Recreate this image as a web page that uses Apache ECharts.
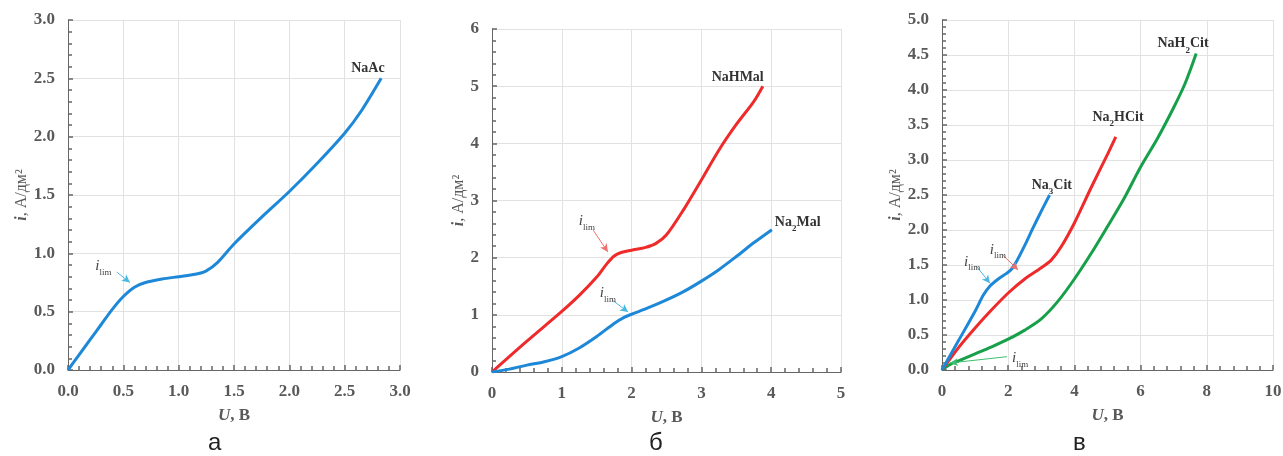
<!DOCTYPE html>
<html><head><meta charset="utf-8">
<script src="https://cdn.jsdelivr.net/npm/echarts@6/dist/echarts.min.js"></script>
<style>html,body{margin:0;padding:0;background:#fff}#c{width:1283px;height:456px}</style>
</head><body><div id="c"></div>
<script>
// ---- data (U, В ; i, А/дм²) ----
const naAc = [[0,0],[0.1,0.13],[0.2,0.26],[0.3,0.39],[0.4,0.52],[0.5,0.63],[0.6,0.71],[0.7,0.75],[0.85,0.78],[1.0,0.8],[1.15,0.82],[1.25,0.85],[1.35,0.92],[1.5,1.08],[1.75,1.31],[2.0,1.53],[2.25,1.77],[2.5,2.03],[2.65,2.22],[2.83,2.5]];
const naHMal = [[0,0],[0.5,0.54],[1.0,1.06],[1.25,1.34],[1.5,1.66],[1.65,1.9],[1.75,2.03],[1.85,2.09],[2.0,2.13],[2.2,2.18],[2.35,2.25],[2.5,2.4],[2.75,2.85],[3.0,3.36],[3.25,3.88],[3.5,4.33],[3.75,4.73],[3.88,5.0]];
const na2Mal = [[0,0],[0.25,0.05],[0.5,0.12],[0.75,0.18],[1.0,0.27],[1.25,0.42],[1.5,0.62],[1.75,0.85],[1.9,0.96],[2.0,1.01],[2.25,1.13],[2.5,1.26],[2.75,1.41],[3.0,1.59],[3.25,1.79],[3.5,2.02],[3.75,2.26],[4.01,2.49]];
const na3Cit = [[0,0],[0.5,0.42],[1.0,0.84],[1.25,1.07],[1.45,1.2],[1.7,1.3],[1.95,1.38],[2.1,1.44],[2.25,1.55],[2.5,1.78],[2.75,2.03],[3.0,2.27],[3.25,2.5]];
const na2HCit = [[0,0],[0.5,0.32],[1.0,0.6],[1.5,0.86],[2.0,1.1],[2.5,1.3],[3.0,1.46],[3.3,1.57],[3.6,1.76],[4.0,2.1],[4.5,2.6],[5.0,3.08],[5.25,3.33]];
const naH2Cit = [[0,0],[0.25,0.08],[0.5,0.13],[1.0,0.23],[1.5,0.33],[2.0,0.44],[2.5,0.57],[3.0,0.73],[3.5,0.98],[4.0,1.3],[4.5,1.66],[5.0,2.05],[5.5,2.45],[6.0,2.9],[6.5,3.3],[7.0,3.75],[7.35,4.1],[7.68,4.52]];

// ---- axis ranges / ticks ----
const xMaxA = 3.0, xStepA = 0.5, yMaxA = 3.0, yStepA = 0.5;
const xMaxB = 5, xStepB = 1, yMaxB = 6, yStepB = 1;
const xMaxC = 10, xStepC = 2, yMaxC = 5.0, yStepC = 0.5;

// ---- annotation anchors (data units) ----
const nameA = [["NaAc",2.71,2.6]];
const nameB = [["NaHMal",3.52,5.18],["Na₂Mal",4.38,2.66]];
const nameC = [["Na₃Cit",3.32,2.67],["Na₂HCit",5.32,3.64],["NaH₂Cit",7.28,4.69]];
const limTextA = [[0.32,0.9]];
const limArrowA = [[0.44,0.84,0.56,0.75]];
const limTextBred = [[1.36,2.66]], limArrowBred = [[1.45,2.48,1.66,2.10]];
const limTextBblue = [[1.66,1.40]], limArrowBblue = [[1.72,1.26,1.95,1.05]];
const limTextCblue = [[0.91,1.57]], limArrowCblue = [[1.06,1.47,1.45,1.24]];
const limTextCred = [[1.69,1.74]], limArrowCred = [[1.84,1.64,2.3,1.43]];
const limTextCgreen = [[2.36,0.19]], limArrowCgreen = [[1.96,0.19,0.24,0.1]];

const BLUE = '#1e88d8', RED = '#ee2a2a', GREEN = '#17a04a';
const SERIF = '"Liberation Serif","DejaVu Serif",serif';

function fmtName(s){
  return '{n|' + s.replace(/[₂₃]/g, m => '}{s|' + (m === '₂' ? '2' : '3') + '}{n|') + '}';
}
const nameRich = {
  n:{fontFamily:SERIF,fontSize:14,fontWeight:'bold',color:'#333',lineHeight:18,verticalAlign:'bottom'},
  s:{fontFamily:SERIF,fontSize:9,fontWeight:'bold',color:'#333',lineHeight:14,verticalAlign:'bottom',padding:[0,0,-4,0]}
};
const limRich = {
  i:{fontFamily:SERIF,fontSize:15,fontStyle:'italic',color:'#444',lineHeight:18,verticalAlign:'bottom'},
  s:{fontFamily:SERIF,fontSize:9,color:'#444',lineHeight:14,verticalAlign:'bottom',padding:[0,0,-3,0]}
};

function markPts(names, lims){
  const d = [];
  names.forEach(n => d.push({coord:[n[1],n[2]], label:{formatter:fmtName(n[0]), rich:nameRich}}));
  lims.forEach(t => d.push({coord:[t[0],t[1]], label:{formatter:'{i|i}{s|lim}', rich:limRich}}));
  return {symbol:'circle', symbolSize:1, itemStyle:{color:'rgba(0,0,0,0)'}, silent:true,
    label:{show:true, position:'inside'}, data:d};
}
function markArr(arrs, color){
  return {silent:true, symbol:['none','arrow'], symbolSize:[6,8], label:{show:false},
    lineStyle:{color:color, type:'solid', width:1},
    data: arrs.map(a => [{coord:[a[0],a[1]]},{coord:[a[2],a[3]]}])};
}

const grids = [
  {left:68, top:20, width:332, height:350, outerBoundsMode:'none'},
  {left:492, top:29, width:349, height:343, outerBoundsMode:'none'},
  {left:942, top:20, width:331, height:350, outerBoundsMode:'none'}
];
const tickCol = '#666666';
function axisBase(idx, max, step, dec){
  return {type:'value', gridIndex:idx, min:0, max:max, interval:step,
    axisLine:{show:true, lineStyle:{color:tickCol, width:1}},
    axisTick:{show:true, inside:true, length:5, lineStyle:{color:tickCol, width:1.5}},
    minorTick:{show:true, splitNumber:5, length:4, lineStyle:{color:tickCol, width:1.5}},
    splitLine:{show:true, lineStyle:{color:'#e2e2e2'}},
    axisLabel:{fontFamily:SERIF, fontSize:17, fontWeight:'bold', color:'#595959', margin:13,
      formatter: v => v.toFixed(dec)}};
}
function xAx(idx, max, step, dec){
  return Object.assign(axisBase(idx, max, step, dec), {
    name:'{u|U}{n|, В}', nameLocation:'middle', nameGap:37,
    nameTextStyle:{rich:{u:{fontFamily:SERIF,fontSize:17,fontStyle:'italic',fontWeight:'bold',color:'#595959'},
      n:{fontFamily:SERIF,fontSize:17,fontWeight:'bold',color:'#595959'}}}
  });
}
function yAx(idx, max, step, dec, gap){
  const a = axisBase(idx, max, step, dec);
  a.axisLabel.margin = 13;
  return Object.assign(a, {
    name:'{i|i}{n|, А/дм²}', nameLocation:'middle', nameGap:gap,
    nameTextStyle:{rich:{i:{fontFamily:SERIF,fontSize:16,fontStyle:'italic',fontWeight:'bold',color:'#595959'},
      n:{fontFamily:SERIF,fontSize:16,color:'#595959'}}}
  });
}
function line(name, data, color, xi, extra){
  return Object.assign({type:'line', name:name, data:data, xAxisIndex:xi, yAxisIndex:xi,
    smooth:0.3, showSymbol:false, symbol:'none', lineStyle:{color:color, width:3}, itemStyle:{color:color},
    z:3}, extra||{});
}

const subStyle = {fontFamily:'"Liberation Sans","DejaVu Sans",sans-serif', fontSize:24, fontWeight:'normal', color:'#222'};
const option = {
  animation:false,
  backgroundColor:'#fff',
  title:[
    {text:'а', left:203, top:426, textStyle:subStyle},
    {text:'б', left:644, top:426, textStyle:subStyle},
    {text:'в', left:1068, top:426, textStyle:subStyle}
  ],
  grid:grids,
  xAxis:[xAx(0,xMaxA,xStepA,1), xAx(1,xMaxB,xStepB,0), xAx(2,xMaxC,xStepC,0)],
  yAxis:[yAx(0,yMaxA,yStepA,1,38), yAx(1,yMaxB,yStepB,0,25), yAx(2,yMaxC,yStepC,1,37)],
  series:[
    line('NaAc', naAc, BLUE, 0, {markPoint:markPts(nameA, limTextA), markLine:markArr(limArrowA,'#4ab8e0')}),
    line('NaHMal', naHMal, RED, 1, {markPoint:markPts(nameB.slice(0,1), limTextBred), markLine:markArr(limArrowBred,'#f07070')}),
    line('Na2Mal', na2Mal, BLUE, 1, {markPoint:markPts(nameB.slice(1), limTextBblue), markLine:markArr(limArrowBblue,'#4ab8e0')}),
    line('NaH2Cit', naH2Cit, GREEN, 2, {markPoint:markPts(nameC.slice(2), limTextCgreen), markLine:markArr(limArrowCgreen,'#3cbf70')}),
    line('Na2HCit', na2HCit, RED, 2, {markPoint:markPts(nameC.slice(1,2), limTextCred), markLine:markArr(limArrowCred,'#f07070')}),
    line('Na3Cit', na3Cit, BLUE, 2, {markPoint:markPts(nameC.slice(0,1), limTextCblue), markLine:markArr(limArrowCblue,'#4ab8e0')})
  ]
};
const chart = echarts.init(document.getElementById('c'), null, {renderer:'canvas'});
chart.setOption(option);
</script></body></html>
